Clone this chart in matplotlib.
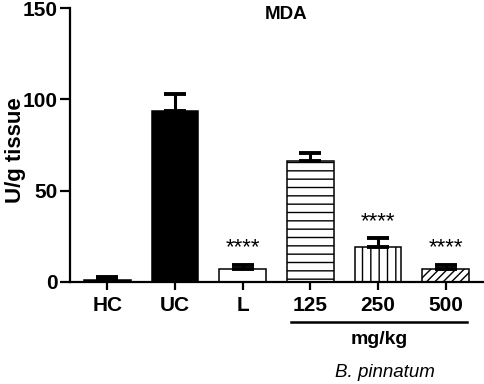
import matplotlib
matplotlib.use('Agg')
import matplotlib.pyplot as plt
import numpy as np

plt.rcParams['font.family'] = ['Liberation Sans', 'DejaVu Sans']
plt.rcParams['hatch.linewidth'] = 1.0

# data
groups = ['HC', 'UC', 'L', '125', '250', '500']
means = [1.0, 93.5, 7.0, 66.0, 19.0, 7.0]
errs = [1.5, 9.5, 2.5, 4.5, 5.0, 2.5]
colors = ['black', 'black', 'white', 'white', 'white', 'white']
hatches = ['', '', '', '--', '||', '////']
stars = ['', '', '****', '', '****', '****']

fig = plt.figure(figsize=(4.84, 3.84), dpi=100)
ax = fig.add_axes([0.145, 0.266, 0.853, 0.713])

x = np.arange(len(groups))
for i in range(len(groups)):
    ax.bar(x[i], means[i], width=0.69, color=colors[i], edgecolor='black',
           linewidth=1.1, hatch=hatches[i], zorder=2)
ax.errorbar(x, means, yerr=[np.zeros(len(errs)), errs], fmt='none',
            ecolor='black', elinewidth=2.2, capsize=8, capthick=2.8, zorder=3)

for i in range(len(groups)):
    if stars[i]:
        ax.text(x[i], means[i] + errs[i] + 9, stars[i], ha='center', va='center',
                fontsize=16)

ax.set_xlim(-0.55, 5.55)
ax.set_ylim(0, 150)
ax.set_yticks([0, 50, 100, 150])
ax.set_xticks(x)
ax.set_xticklabels(groups)
for lab in ax.get_xticklabels() + ax.get_yticklabels():
    lab.set_fontweight('bold')
    lab.set_fontsize(15)
ax.tick_params(axis='both', width=1.6, length=6, pad=4)
ax.tick_params(axis='y', length=7, pad=2)
for s in ['top', 'right']:
    ax.spines[s].set_visible(False)
for s in ['left', 'bottom']:
    ax.spines[s].set_linewidth(1.6)

fig.text(16 / 484, 1 - 150 / 384, 'U/g tissue', rotation=90, ha='center',
         va='center', fontsize=16, fontweight='bold')
ax.text(2.64, 146.5, 'MDA', ha='center', va='center', fontsize=13.5,
        fontweight='bold')

# dose bracket under the B. pinnatum groups
ax.plot([2.71, 5.31], [-22, -22], color='black', lw=1.8, clip_on=False)
ax.text(4.01, -31.7, 'mg/kg', ha='center', va='center', fontsize=14,
        fontweight='bold', clip_on=False)
ax.text(4.1, -49.8, 'B. pinnatum', ha='center', va='center', fontsize=13.5,
        style='italic', clip_on=False)

fig.savefig('out.png', dpi=100)
